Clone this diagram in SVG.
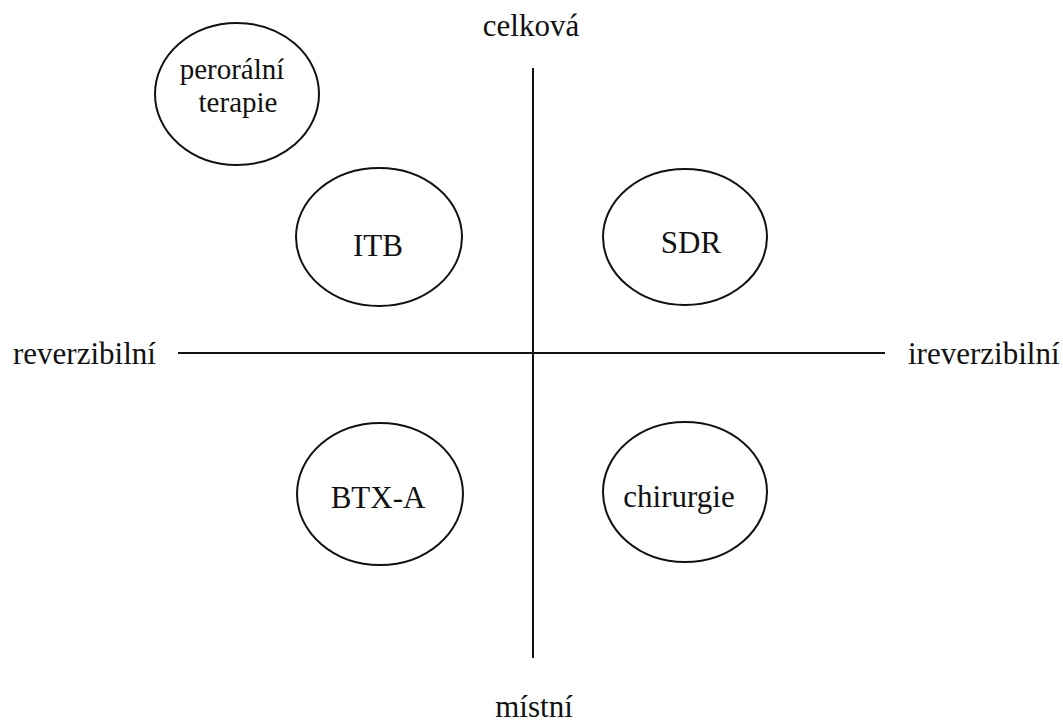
<svg xmlns="http://www.w3.org/2000/svg" width="1063" height="724" viewBox="0 0 1063 724">
<style>
.n{fill:none;stroke:#111;stroke-width:2}
.ax{stroke:#111;stroke-width:2;fill:none}
text{font-family:"Liberation Serif","Times New Roman",serif;font-size:31px;fill:#111}
.m{text-anchor:middle}
.s{font-size:29px}
</style>
<rect width="1063" height="724" fill="#fff"/>
<g id="connectors">
<line class="ax" x1="533" y1="68" x2="533" y2="658"/>
<line class="ax" x1="178" y1="353" x2="885" y2="353"/>
</g>
<g id="axis-labels">
<text class="m" x="531" y="36">celková</text>
<text class="m" x="534" y="717">místní</text>
<text x="13" y="364">reverzibilní</text>
<text x="908" y="364">ireverzibilní</text>
</g>
<g id="perooral">
<ellipse class="n" cx="237" cy="94" rx="82" ry="71"/>
<text class="m s" x="232" y="79">perorální</text>
<text class="m s" x="238" y="112">terapie</text>
</g>
<g id="itb">
<ellipse class="n" cx="379" cy="237" rx="83" ry="69"/>
<text class="m" x="378" y="256">ITB</text>
</g>
<g id="sdr">
<ellipse class="n" cx="685" cy="237" rx="82" ry="68"/>
<text class="m" x="691" y="253">SDR</text>
</g>
<g id="btxa">
<ellipse class="n" cx="380" cy="494" rx="83" ry="71"/>
<text class="m" x="378" y="508">BTX-A</text>
</g>
<g id="chirurgie">
<ellipse class="n" cx="685" cy="492" rx="82" ry="70"/>
<text class="m" x="679" y="507">chirurgie</text>
</g>
</svg>
